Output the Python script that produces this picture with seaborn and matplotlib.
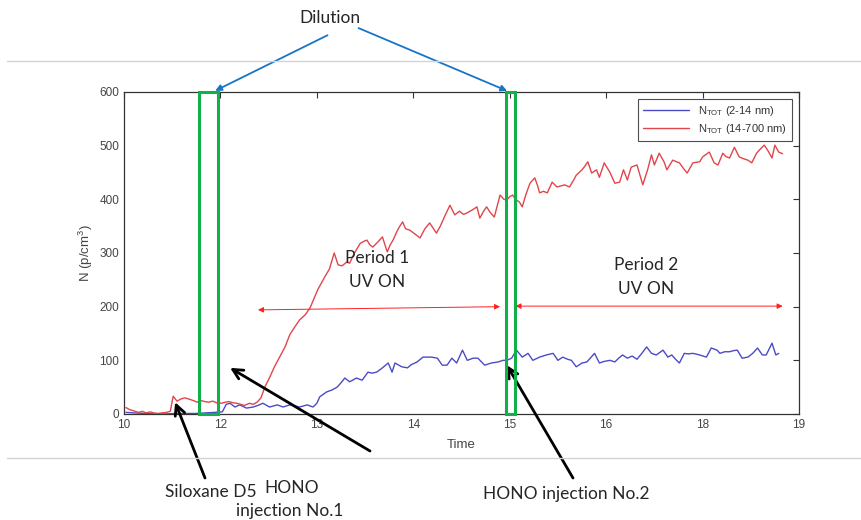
import numpy as np
import pandas as pd
import matplotlib
matplotlib.use('Agg')
from matplotlib import pyplot as plt
from matplotlib.lines import Line2D
from matplotlib.patches import Rectangle
import seaborn as sns

# x positions are in tick-index units (ticks are evenly spaced, labels are not)
tick_pos = [0, 1, 2, 3, 4, 5, 6, 7]
tick_labels = ['10', '12', '13', '14', '15', '16', '18', '19']

red_x = [0.02, 0.06, 0.10, 0.15, 0.19, 0.23, 0.27, 0.31, 0.35, 0.39, 0.44, 0.48,
         0.51, 0.55, 0.59, 0.63, 0.67, 0.72, 0.76, 0.80, 0.84, 0.88, 0.92, 0.96,
         1.01, 1.05, 1.09, 1.13, 1.17, 1.21, 1.25, 1.30, 1.34, 1.38, 1.42, 1.46,
         1.51, 1.56, 1.62, 1.67, 1.72, 1.77, 1.82, 1.88, 1.93, 1.97, 2.01, 2.05,
         2.09, 2.13, 2.18, 2.22, 2.26, 2.31, 2.34, 2.39, 2.45, 2.49, 2.52, 2.55,
         2.58, 2.63, 2.68, 2.73, 2.76, 2.79, 2.83, 2.86, 2.89, 2.92, 2.96, 3.02,
         3.07, 3.12, 3.17, 3.21, 3.24, 3.28, 3.33, 3.38, 3.43, 3.48, 3.52, 3.55,
         3.61, 3.66, 3.69, 3.73, 3.76, 3.80, 3.84, 3.90, 3.94, 3.97, 4.00, 4.03,
         4.06, 4.10, 4.13, 4.17, 4.21, 4.26, 4.29, 4.31, 4.35, 4.39, 4.44, 4.49,
         4.53, 4.57, 4.62, 4.66, 4.69, 4.75, 4.78, 4.81, 4.85, 4.90, 4.93, 4.98,
         5.04, 5.09, 5.14, 5.18, 5.22, 5.26, 5.32, 5.38, 5.43, 5.47, 5.50, 5.55,
         5.60, 5.63, 5.69, 5.73, 5.76, 5.80, 5.84, 5.90, 5.97, 6.00, 6.03, 6.07,
         6.12, 6.16, 6.21, 6.24, 6.28, 6.33, 6.38, 6.42, 6.47, 6.51, 6.56, 6.59,
         6.64, 6.68, 6.72, 6.75, 6.79, 6.83]
red_n = [12, 8, 6, 3, 5, 2, 4, 2, 1, 2, 3, 5,
         33, 24, 28, 30, 28, 25, 22, 25, 23, 22, 24, 21,
         20, 22, 23, 21, 20, 18, 16, 20, 18, 22, 30, 50,
         68, 88, 108, 125, 148, 162, 175, 185, 198, 215, 232, 245,
         258, 270, 300, 278, 276, 283, 281, 300, 318, 322, 324, 315,
         311, 320, 330, 302, 315, 324, 340, 350, 358, 345, 343, 335,
         328, 345, 356, 345, 337, 350, 370, 389, 371, 378, 372, 374,
         380, 386, 365, 378, 386, 375, 367, 408, 400, 399, 405, 408,
         400, 395, 386, 410, 430, 440, 425, 412, 415, 412, 432, 423,
         425, 427, 423, 435, 445, 455, 462, 470, 449, 455, 441, 468,
         450, 430, 432, 455, 436, 460, 464, 427, 455, 483, 464, 486,
         470, 455, 473, 470, 468, 458, 449, 468, 470, 479, 483, 488,
         468, 464, 486, 480, 477, 497, 479, 476, 473, 468, 486, 492,
         501, 490, 477, 501, 488, 485]

blue_x = [0.02, 0.11, 0.22, 0.32, 0.42, 0.53, 0.63, 0.74, 0.84, 0.94, 1.02, 1.06,
          1.10, 1.15, 1.20, 1.27, 1.34, 1.39, 1.44, 1.51, 1.59, 1.65, 1.72, 1.77,
          1.82, 1.90, 1.96, 2.00, 2.03, 2.10, 2.16, 2.21, 2.25, 2.29, 2.34, 2.41,
          2.47, 2.53, 2.57, 2.62, 2.68, 2.74, 2.78, 2.81, 2.88, 2.94, 2.98, 3.04,
          3.10, 3.15, 3.19, 3.25, 3.30, 3.35, 3.40, 3.45, 3.51, 3.56, 3.62, 3.67,
          3.74, 3.81, 3.88, 3.93, 3.97, 4.02, 4.07, 4.13, 4.19, 4.24, 4.31, 4.38,
          4.45, 4.50, 4.55, 4.60, 4.64, 4.69, 4.75, 4.80, 4.84, 4.88, 4.93, 4.98,
          5.04, 5.09, 5.13, 5.17, 5.22, 5.27, 5.32, 5.37, 5.42, 5.47, 5.52, 5.59,
          5.64, 5.68, 5.72, 5.76, 5.81, 5.85, 5.90, 5.97, 6.04, 6.09, 6.15, 6.18,
          6.23, 6.28, 6.32, 6.36, 6.41, 6.47, 6.52, 6.57, 6.62, 6.66, 6.72, 6.76,
          6.79]
blue_n = [3, 2, 1, 0, 0, 1, 1, 1, 2, 3, 4, 18,
          20, 13, 17, 11, 13, 16, 20, 13, 17, 13, 17, 15,
          13, 17, 13, 20, 32, 41, 45, 50, 58, 67, 60, 67,
          63, 78, 76, 78, 86, 95, 78, 95, 88, 86, 92, 97,
          106, 106, 106, 104, 91, 91, 104, 95, 119, 100, 104, 104,
          91, 95, 97, 100, 100, 104, 119, 106, 113, 100, 106, 110,
          113, 100, 106, 102, 100, 88, 95, 97, 105, 113, 95, 98,
          100, 97, 104, 110, 104, 108, 102, 113, 125, 113, 110, 119,
          106, 110, 102, 95, 113, 112, 113, 110, 106, 123, 119, 113,
          116, 116, 118, 119, 104, 106, 113, 123, 110, 110, 132, 110,
          113]

blue_label = r'N$_{\mathrm{TOT}}$ (2-14 nm)'
red_label = r'N$_{\mathrm{TOT}}$ (14-700 nm)'

sns.set_style('white')
plt.rcParams['font.family'] = ['Liberation Sans', 'DejaVu Sans']
plt.rcParams['mathtext.fontset'] = 'custom'
plt.rcParams['mathtext.rm'] = 'Liberation Sans'

fig = plt.figure(figsize=(8.62, 5.2), dpi=100)
ax = fig.add_axes([124 / 862, 1 - 414 / 520, 675 / 862, 322 / 520])

blue_df = pd.DataFrame({'t': blue_x, 'n': blue_n})
red_df = pd.DataFrame({'t': red_x, 'n': red_n})
sns.lineplot(data=blue_df, x='t', y='n', ax=ax, color='#4b4bc8', lw=1.0, label=blue_label)
sns.lineplot(data=red_df, x='t', y='n', ax=ax, color='#e0464b', lw=1.0, label=red_label)

ax.set_xlim(0, 7)
ax.set_ylim(0, 600)
ax.set_xticks(tick_pos)
ax.set_xticklabels(tick_labels)
ax.set_yticks(range(0, 601, 100))
ax.tick_params(direction='in', length=4, width=0.8, colors='#333333',
               labelcolor='#454545', labelsize=8.5, top=True, right=True)
for s in ax.spines.values():
    s.set_color('#333333')
    s.set_linewidth(0.9)
ax.set_xlabel('Time', fontsize=9.5, color='#454545', labelpad=6)
ax.set_ylabel('N (p/cm$^3$)', fontsize=9.5, color='#454545', labelpad=3)

leg = ax.legend(loc='upper right', fontsize=8, frameon=True, fancybox=False,
                handlelength=4.2, borderaxespad=0.6, labelspacing=0.35,
                borderpad=0.45)
leg.get_frame().set_edgecolor('#222222')
leg.get_frame().set_linewidth(0.8)
for t in leg.get_texts():
    t.set_color('#333333')

# dilution windows
green = '#12b04a'
for x0, w in [(0.78, 0.20), (3.96, 0.09)]:
    ax.add_patch(Rectangle((x0, 0), w, 600, fill=False, ec=green, lw=2.2, clip_on=False, zorder=5))

# slide guide lines
for yy in [61, 458]:
    fig.add_artist(Line2D([7 / 862, 1], [1 - yy / 520] * 2, transform=fig.transFigure,
                          color='#d4d4d4', lw=1))

note_font = ['Lato', 'DejaVu Sans']
note_size = 12.5

# Dilution label with blue arrows
fig.text(330 / 862, 1 - 18 / 520, 'Dilution', ha='center', va='center',
         fontsize=note_size, family=note_font)
blue_arrow = dict(arrowstyle='-|>', color='#1874c6', lw=1.3, mutation_scale=9)
ax.annotate('', xy=(0.92, 600), xycoords='data',
            xytext=(330 / 862, 1 - 34 / 520), textcoords='figure fraction',
            arrowprops=blue_arrow, annotation_clip=False)
ax.annotate('', xy=(4.0, 600), xycoords='data',
            xytext=(356 / 862, 1 - 27 / 520), textcoords='figure fraction',
            arrowprops=blue_arrow, annotation_clip=False)

# periods
red_arrow = dict(arrowstyle='<|-|>', color='#ff2020', lw=0.7, mutation_scale=8,
                 shrinkA=0, shrinkB=0)
ax.annotate('', xy=(1.39, 194), xytext=(3.90, 200), arrowprops=red_arrow)
ax.annotate('', xy=(4.06, 201), xytext=(6.83, 201), arrowprops=red_arrow)
ax.text(2.63, 268, 'Period 1\nUV ON', ha='center', va='center', fontsize=note_size,
        family=note_font, linespacing=1.65)
ax.text(5.41, 255, 'Period 2\nUV ON', ha='center', va='center', fontsize=note_size,
        family=note_font, linespacing=1.65)

# injection annotations
black_arrow = dict(arrowstyle='->', color='black', lw=2, mutation_scale=18,
                   shrinkA=0, shrinkB=0)
ax.annotate('', xy=(0.53, 22), xytext=(205 / 862, 1 - 478 / 520),
            textcoords='figure fraction', arrowprops=black_arrow, annotation_clip=False)
ax.annotate('', xy=(1.10, 86), xytext=(370 / 862, 1 - 451 / 520),
            textcoords='figure fraction', arrowprops=black_arrow, annotation_clip=False)
ax.annotate('', xy=(3.97, 91), xytext=(573 / 862, 1 - 478 / 520),
            textcoords='figure fraction', arrowprops=black_arrow, annotation_clip=False)
fig.text(211 / 862, 1 - 492 / 520, 'Siloxane D5', ha='center', va='center',
         fontsize=note_size, family=note_font)
fig.text(292 / 862, 1 - 488 / 520, 'HONO', ha='center', va='center',
         fontsize=note_size, family=note_font)
fig.text(290 / 862, 1 - 511 / 520, 'injection No.1', ha='center', va='center',
         fontsize=note_size, family=note_font)
fig.text(566 / 862, 1 - 494 / 520, 'HONO injection No.2', ha='center', va='center',
         fontsize=note_size, family=note_font)

plt.savefig('out.png', dpi=100)
